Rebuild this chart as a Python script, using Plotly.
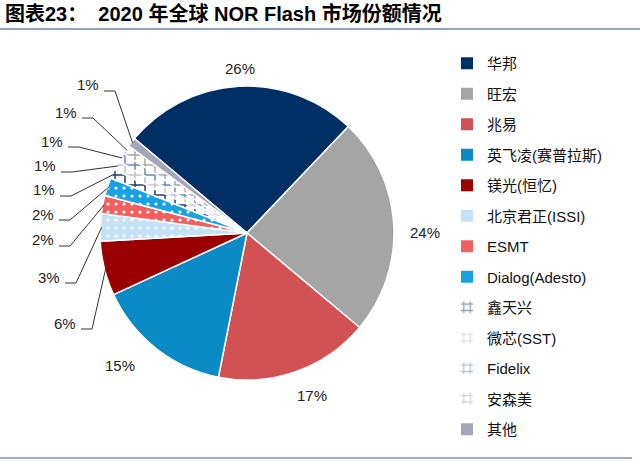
import numpy as np
import plotly.graph_objects as go

W, H = 640, 462

# data
labels = ["华邦", "旺宏", "兆易", "英飞凌(赛普拉斯)", "镁光(恒忆)", "北京君正(ISSI)", "ESMT",
          "Dialog(Adesto)", "鑫天兴", "微芯(SST)", "Fidelix", "安森美", "其他"]
shares = [26, 24, 17, 15, 6, 3, 2, 2, 1, 1, 1, 1, 1]

colors = ["#002f66", "#a5a5a5", "#d25152", "#0b8bc6", "#990000", "#c4e2f5", "#f15f5f",
          "#19a2e2", "#ffffff", "#ffffff", "#ffffff", "#ffffff", "#a3a6b9"]
pat_shape = ["", "", "", "", "", ".", ".", ".", "+", "+", "+", "+", ""]
pat_fg = ["#ffffff"] * 8 + ["#1f3b6e", "#c3c3c3", "#6f89ad", "#a8a8a8", "#ffffff"]
pat_size = [8, 8, 8, 8, 8, 8, 8, 8, 10, 10, 10, 10, 8]
pat_solid = [0.12] * 8 + [0.28] * 4 + [0.12]

# where each percentage label sits (text centre for big slices, right edge for small ones), px
lab_x = [240, 425, 312, 120, 78, 62, 56, 56, 57, 58, 65, 79, 101]
lab_y = [68, 232, 395, 365, 323, 277, 240, 214, 190, 166, 141, 112, 85]

font = "Arial, 'Liberation Sans', 'Noto Sans CJK SC', sans-serif"

# pie geometry (px)
cx, cy, r = 247, 233, 147
rot = -50

def px2x(v):
    return v / W

def px2y(v):
    return 1 - v / H

fig = go.Figure()

fig.add_trace(go.Pie(
    labels=labels, values=shares, sort=False, direction="clockwise", rotation=rot,
    marker=dict(colors=colors, line=dict(color="white", width=1.5),
                pattern=dict(shape=pat_shape, fgcolor=pat_fg, bgcolor=colors,
                             size=pat_size, solidity=pat_solid)),
    textinfo="none",
    domain=dict(x=[px2x(cx - r), px2x(cx + r)], y=[px2y(cy + r), px2y(cy - r)]),
    showlegend=False, hoverinfo="label+percent",
))

# legend entries (spaced like the original); dotted slices show a plain swatch
for lab, c, s, fg in zip(labels, colors, pat_shape, pat_fg):
    s_leg = s if s == "+" else ""
    fig.add_trace(go.Bar(x=[None], y=[None], name=lab, legendgroup=lab,
                         marker=dict(color=c, line=dict(width=0),
                                     pattern=dict(shape=s_leg, fgcolor=fg, bgcolor=c,
                                                  size=8, solidity=0.35))))

# percentage labels, with leader lines for the small slices
total = sum(shares)
cum = 0
shapes = []
annots = []
lab_font = dict(size=15, color="#222222", family=font)
for i, v in enumerate(shares):
    mid = rot + (cum + v / 2) / total * 360
    cum += v
    if i < 4:
        annots.append(dict(x=px2x(lab_x[i]), y=px2y(lab_y[i]), xref="paper", yref="paper",
                           xanchor="center", yanchor="middle", showarrow=False,
                           text=f"{v}%", font=lab_font))
        continue
    a = np.radians(mid)
    ex = cx + r * 0.99 * np.sin(a)
    ey = cy - r * 0.99 * np.cos(a)
    xr, yc = lab_x[i], lab_y[i]
    x0, x1, yl = xr + 3, xr + 14, yc + 6
    shapes.append(dict(type="path", xref="paper", yref="paper",
                       path=f"M{px2x(x0)},{px2y(yl)} L{px2x(x1)},{px2y(yl)} L{px2x(ex)},{px2y(ey)}",
                       line=dict(color="#333333", width=1)))
    annots.append(dict(x=px2x(xr), y=px2y(yc), xref="paper", yref="paper",
                       xanchor="right", yanchor="middle", showarrow=False,
                       text=f"{v}%", font=lab_font))

# title and rules
annots.append(dict(x=px2x(3), y=px2y(14), xref="paper", yref="paper", xanchor="left",
                   yanchor="middle", showarrow=False,
                   text="<b>图表23：  2020 年全球 NOR Flash 市场份额情况</b>",
                   font=dict(size=20, color="#000000", family=font)))
shapes.append(dict(type="line", xref="paper", yref="paper", x0=0, x1=1,
                   y0=px2y(29), y1=px2y(29), line=dict(color="#6f86a8", width=1.5)))
shapes.append(dict(type="line", xref="paper", yref="paper", x0=0, x1=px2x(632),
                   y0=px2y(458), y1=px2y(458), line=dict(color="#7f93b3", width=1.5)))

fig.update_layout(
    width=W, height=H, margin=dict(l=0, r=0, t=0, b=0),
    paper_bgcolor="white", plot_bgcolor="white",
    font=dict(family=font, size=15, color="#222222"),
    xaxis=dict(visible=False), yaxis=dict(visible=False),
    legend=dict(x=px2x(447), y=px2y(47), xanchor="left", yanchor="top",
                traceorder="grouped", tracegroupgap=8,
                font=dict(size=15, family=font, color="#111111")),
    shapes=shapes, annotations=annots,
)

fig.write_html("out.html", config={"displayModeBar": False},
               post_script="document.body.style.margin='0px';")
